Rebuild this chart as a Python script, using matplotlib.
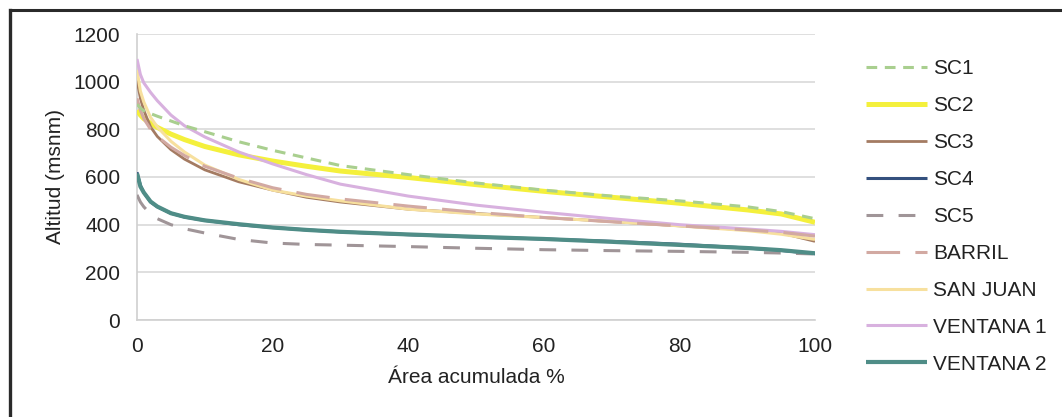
import matplotlib
matplotlib.use("Agg")
import matplotlib.pyplot as plt
from matplotlib.lines import Line2D

plt.rcParams['font.family'] = ['Liberation Sans', 'DejaVu Sans']

area_pct = [0, 0.5, 1, 2, 3, 5, 7, 10, 15, 20, 25, 30, 40, 50, 60, 70, 80, 90, 95, 100]

sc1 = [905, 890, 878, 866, 855, 835, 815, 790, 748, 712, 680, 648, 610, 575, 545, 520, 500, 475, 455, 425]
sc2 = [880, 860, 845, 825, 808, 780, 757, 728, 693, 667, 645, 625, 598, 568, 540, 515, 490, 462, 445, 410]
sc3 = [1005, 930, 880, 810, 770, 715, 675, 630, 580, 545, 515, 495, 465, 447, 430, 413, 395, 378, 365, 330]
sc4 = [620, 565, 535, 495, 475, 448, 432, 418, 400, 388, 378, 370, 358, 348, 340, 330, 318, 302, 292, 278]
sc5 = [525, 495, 475, 445, 425, 400, 383, 365, 338, 323, 317, 314, 308, 301, 295, 291, 288, 284, 281, 277]
barril = [930, 880, 845, 800, 770, 725, 690, 645, 595, 555, 527, 508, 478, 452, 430, 412, 395, 378, 368, 352]
san_juan = [1050, 960, 915, 850, 810, 750, 705, 650, 590, 545, 520, 500, 465, 445, 430, 413, 395, 375, 360, 338]
ventana1 = [1095, 1030, 995, 955, 920, 860, 815, 768, 705, 655, 610, 570, 520, 482, 452, 425, 400, 382, 372, 358]
ventana2 = [615, 560, 535, 497, 476, 448, 433, 418, 402, 388, 378, 370, 359, 349, 340, 328, 315, 302, 293, 280]

labels = ['SC1', 'SC2', 'SC3', 'SC4', 'SC5', 'BARRIL', 'SAN JUAN', 'VENTANA 1', 'VENTANA 2']
series = [sc1, sc2, sc3, sc4, sc5, barril, san_juan, ventana1, ventana2]
y_ticks = [0, 200, 400, 600, 800, 1000, 1200]
x_ticks = [0, 20, 40, 60, 80, 100]

styles = [
    dict(color='#a9cf8f', lw=2.2, dashes=(3.5, 2.5), zorder=6),
    dict(color='#f4f03c', lw=3.6, zorder=3),
    dict(color='#a47b62', lw=2.0, zorder=4),
    dict(color='#34507e', lw=2.2, zorder=4),
    dict(color='#a09598', lw=2.2, dashes=(5.5, 5), zorder=4),
    dict(color='#d2a9a2', lw=2.2, dashes=(11, 5), zorder=5),
    dict(color='#f7e09e', lw=2.2, zorder=4),
    dict(color='#d8b1df', lw=2.2, zorder=4),
    dict(color='#4f8d87', lw=3.0, zorder=5),
]

FS = 15

fig = plt.figure(figsize=(10.62, 4.17), dpi=100)
ax = fig.add_axes([137 / 1062, 1 - 320 / 417, (815 - 137) / 1062, (320 - 34) / 417])

handles = []
for lab, ys, st in zip(labels, series, styles):
    st = dict(st)
    dashes = st.pop('dashes', None)
    ln, = ax.plot(area_pct, ys, label=lab, solid_capstyle='butt', **st)
    if dashes is not None:
        ln.set_dashes(dashes)
        ln.set_dash_capstyle('butt')
    handles.append(ln)

ax.set_xlim(0, 100)
ax.set_ylim(0, 1200)
ax.set_xticks(x_ticks)
ax.set_yticks(y_ticks)
ax.tick_params(axis='both', length=0, labelsize=FS, colors='#222222')
ax.tick_params(axis='y', pad=12)
ax.tick_params(axis='x', pad=12)
ax.grid(axis='y', color='#d9d9d9', lw=1.2, zorder=0)
ax.set_axisbelow(True)
for s in ['top', 'right']:
    ax.spines[s].set_visible(False)
for s in ['left', 'bottom']:
    ax.spines[s].set_color('#d0d0d0')
    ax.spines[s].set_linewidth(1.2)

ax.set_xlabel('Área acumulada %', fontsize=FS, color='#222222', labelpad=9)
ax.set_ylabel('Altitud (msnm)', fontsize=FS, color='#222222', labelpad=6)

leg = fig.legend(handles=handles, labels=labels, loc='upper left',
                 bbox_to_anchor=(858 / 1062, 1 - 51 / 417), frameon=False,
                 fontsize=FS, handlelength=2.9, handletextpad=0.3,
                 labelspacing=0.86, borderaxespad=0)
for t in leg.get_texts():
    t.set_color('#222222')

# outer frame (cropped box)
fig.add_artist(Line2D([10 / 1062, 10 / 1062], [0, 1 - 10 / 417], transform=fig.transFigure,
                      color='#2a2a2a', lw=2.4))
fig.add_artist(Line2D([10 / 1062, 1], [1 - 10 / 417, 1 - 10 / 417], transform=fig.transFigure,
                      color='#2a2a2a', lw=2.2))

fig.savefig('out.png', dpi=100)
